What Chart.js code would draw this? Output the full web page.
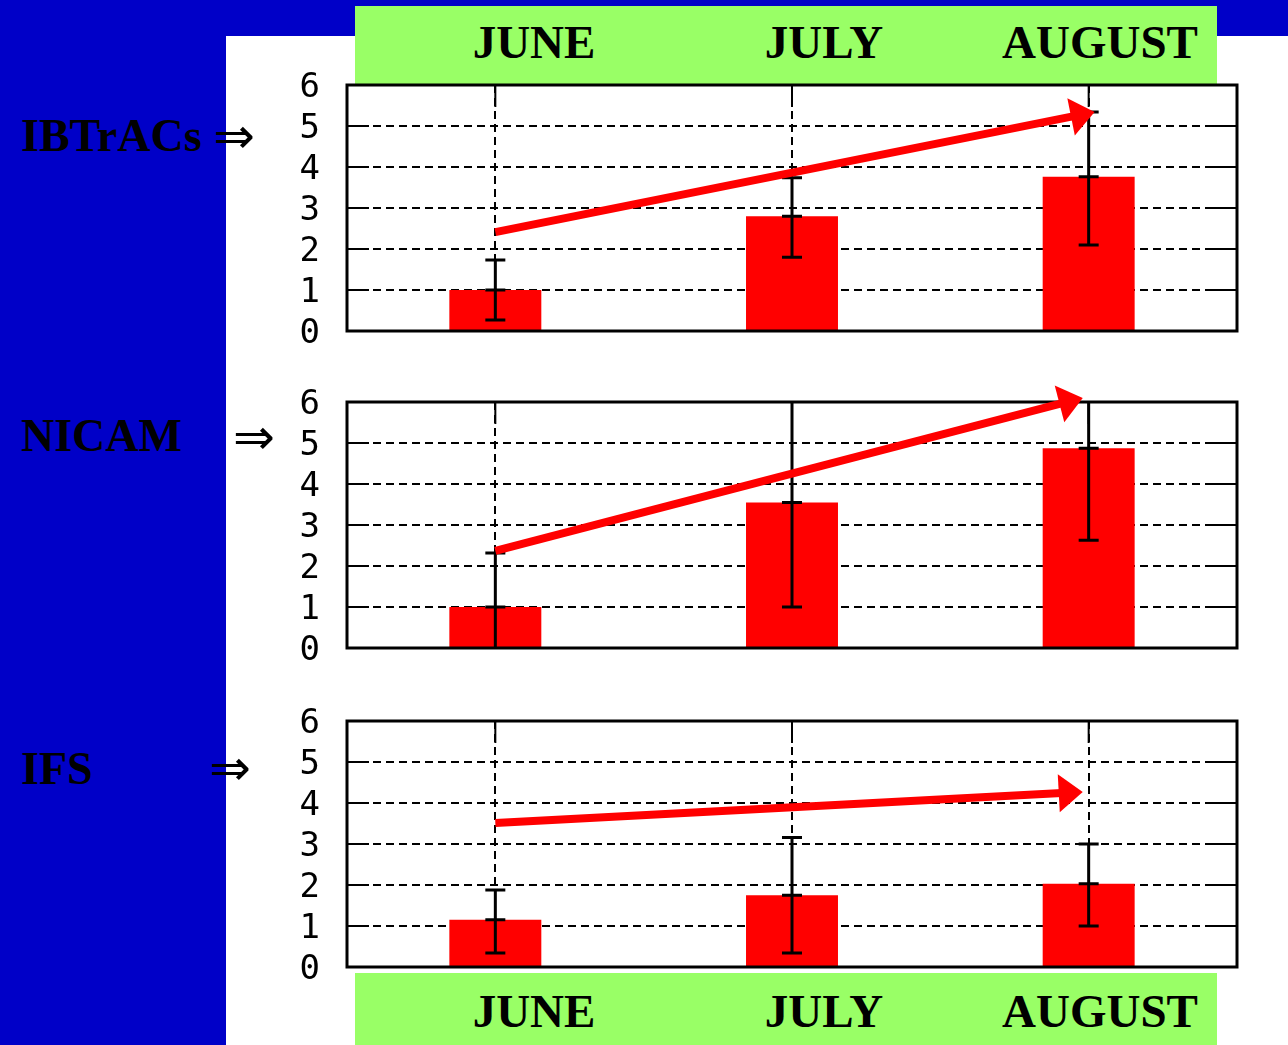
<!DOCTYPE html>
<html>
<head>
<meta charset="utf-8">
<title>Monthly counts</title>
<script src="https://cdn.jsdelivr.net/npm/chart.js@4.4.1/dist/chart.umd.min.js"></script>
<style>
  html, body { margin: 0; padding: 0; }
  body { width: 1288px; height: 1045px; background: #0000c8; position: relative; overflow: hidden; }
  #panel { position: absolute; left: 226px; top: 36px; width: 1062px; height: 1009px; background: #fff; }
  .band { position: absolute; left: 355px; width: 862px; background: #99ff66; }
  .month, .model { position: absolute; font-family: "Liberation Serif", "Times New Roman", serif; font-weight: bold; color: #000; white-space: nowrap; line-height: 1; }
  .month { font-size: 47px; transform: translateX(-50%); }
  .model { font-size: 46px; left: 21px; }
  .imp { position: absolute; font-family: "DejaVu Sans", sans-serif; font-size: 50px; line-height: 1; color: #000; }
  canvas { position: absolute; left: 280px; }
</style>
</head>
<body>
<div id="panel"></div>
<div class="band" style="top:6px;height:78px"></div>
<div class="band" style="top:973px;height:72px"></div>
<div id="labels"></div>
<canvas id="c0" width="970" height="300" style="top:60px"></canvas>
<canvas id="c1" width="970" height="300" style="top:377px"></canvas>
<canvas id="c2" width="970" height="300" style="top:696px"></canvas>

<script>
// categories and axis
const months = ['JUNE', 'JULY', 'AUGUST'];
const yTickLabels = ['0', '1', '2', '3', '4', '5', '6'];
const models = ['IBTrACs', 'NICAM', 'IFS'];

// bar heights (means) and error bar ends
const ibtracsMean = [1.0, 2.8, 3.76];
const ibtracsLow  = [0.27, 1.8, 2.1];
const ibtracsHigh = [1.73, 3.74, 5.34];

const nicamMean = [1.0, 3.55, 4.87];
const nicamLow  = [-0.32, 1.0, 2.63];
const nicamHigh = [2.32, 6.1, 7.1];

const ifsMean = [1.15, 1.75, 2.03];
const ifsLow  = [0.34, 0.34, 1.0];
const ifsHigh = [1.88, 3.16, 3.0];

// trend arrows: [category index, value] start and tip
const ibtracsTrend = [[0, 2.41], [2.02, 5.34]];
const nicamTrend   = [[0, 2.37], [1.98, 6.1]];
const ifsTrend     = [[0, 3.51], [1.98, 4.27]];

// page text layout
const monthX = [534, 824, 1100];
const modelTop = [113, 413, 746];
const impLeft = [213, 233, 209];
const impTop = [111, 412, 743];

const labels = document.getElementById('labels');
months.forEach((m, i) => {
  [19, 988].forEach(top => {
    const d = document.createElement('div');
    d.className = 'month';
    d.textContent = m;
    d.style.left = monthX[i] + 'px';
    d.style.top = top + 'px';
    labels.appendChild(d);
  });
});
models.forEach((m, i) => {
  const d = document.createElement('div');
  d.className = 'model';
  d.textContent = m;
  d.style.top = modelTop[i] + 'px';
  labels.appendChild(d);
  const a = document.createElement('div');
  a.className = 'imp';
  a.textContent = '\u21D2';
  a.style.left = impLeft[i] + 'px';
  a.style.top = impTop[i] + 'px';
  labels.appendChild(a);
});

// solid tick stubs, error bars, frame and trend arrow
const framePlugin = {
  id: 'frame',
  beforeDatasetsDraw(chart) {
    const { ctx, chartArea: a, scales: { x, y } } = chart;
    ctx.save();
    ctx.strokeStyle = '#000';
    ctx.lineWidth = 2;
    ctx.beginPath();
    y.ticks.forEach(t => {
      const py = y.getPixelForValue(t.value);
      ctx.moveTo(a.left, py); ctx.lineTo(a.left + 22, py);
      ctx.moveTo(a.right - 25, py); ctx.lineTo(a.right, py);
    });
    months.forEach((m, i) => {
      const px = x.getPixelForValue(i);
      ctx.moveTo(px, a.top); ctx.lineTo(px, a.top + 22);
    });
    ctx.stroke();
    ctx.restore();
  },
  afterDatasetsDraw(chart, args, opts) {
    const { ctx, chartArea: a, scales: { x, y } } = chart;
    const mean = chart.data.datasets[0].data;

    // error bars
    ctx.save();
    ctx.beginPath();
    ctx.rect(a.left, a.top, a.right - a.left, a.bottom - a.top);
    ctx.clip();
    ctx.strokeStyle = '#000';
    ctx.lineWidth = 3;
    ctx.beginPath();
    mean.forEach((v, i) => {
      const px = x.getPixelForValue(i);
      const lo = y.getPixelForValue(opts.low[i]);
      const hi = y.getPixelForValue(opts.high[i]);
      const mid = y.getPixelForValue(v);
      ctx.moveTo(px, lo); ctx.lineTo(px, hi);
      [lo, mid, hi].forEach(py => { ctx.moveTo(px - 10, py); ctx.lineTo(px + 10, py); });
    });
    ctx.stroke();
    ctx.restore();

    // frame
    ctx.save();
    ctx.strokeStyle = '#000';
    ctx.lineWidth = 3;
    ctx.strokeRect(a.left, a.top, a.right - a.left, a.bottom - a.top);
    ctx.restore();

    // trend arrow
    const [p0, p1] = opts.trend;
    const x0 = x.getPixelForValue(p0[0]), y0 = y.getPixelForValue(p0[1]);
    const x1 = x.getPixelForValue(p1[0]), y1 = y.getPixelForValue(p1[1]);
    const len = Math.hypot(x1 - x0, y1 - y0);
    const ux = (x1 - x0) / len, uy = (y1 - y0) / len;
    const headLen = 24, headHalf = 19;
    const bx = x1 - ux * headLen, by = y1 - uy * headLen;
    ctx.save();
    ctx.strokeStyle = '#ff0000';
    ctx.fillStyle = '#ff0000';
    ctx.lineWidth = 8;
    ctx.lineCap = 'butt';
    ctx.beginPath();
    ctx.moveTo(x0, y0);
    ctx.lineTo(bx + ux * 3, by + uy * 3);
    ctx.stroke();
    ctx.beginPath();
    ctx.moveTo(x1, y1);
    ctx.lineTo(bx - uy * headHalf, by + ux * headHalf);
    ctx.lineTo(bx + uy * headHalf, by - ux * headHalf);
    ctx.closePath();
    ctx.fill();
    ctx.restore();
  }
};

function makeChart(id, mean, low, high, trend) {
  return new Chart(document.getElementById(id), {
    type: 'bar',
    data: {
      labels: months,
      datasets: [{
        data: mean,
        backgroundColor: '#ff0000',
        borderWidth: 0,
        barPercentage: 0.31,
        categoryPercentage: 1
      }]
    },
    options: {
      responsive: false,
      animation: false,
      devicePixelRatio: 1,
      layout: { padding: { top: 25, bottom: 29, left: 0, right: 13 } },
      scales: {
        x: {
          offset: true,
          grid: { offset: false, color: '#000', lineWidth: 2, drawTicks: false },
          border: { display: false, dash: [8, 5] },
          ticks: { display: false },
          afterFit: s => { s.height = 0; s.paddingLeft = 0; s.paddingRight = 0; }
        },
        y: {
          min: 0,
          max: 6,
          grid: { color: '#000', lineWidth: 2, drawTicks: false },
          border: { display: false, dash: [8, 5] },
          ticks: {
            stepSize: 1,
            autoSkip: false,
            padding: 27,
            labelOffset: 3,
            color: '#000',
            font: { family: 'DejaVu Sans Mono', size: 34, lineHeight: 1 },
            callback: (v) => yTickLabels[v]
          },
          afterFit: s => { s.width = 67; s.paddingTop = 0; s.paddingBottom = 0; }
        }
      },
      plugins: {
        legend: { display: false },
        tooltip: { enabled: false },
        frame: { low: low, high: high, trend: trend }
      }
    },
    plugins: [framePlugin]
  });
}

makeChart('c0', ibtracsMean, ibtracsLow, ibtracsHigh, ibtracsTrend);
makeChart('c1', nicamMean, nicamLow, nicamHigh, nicamTrend);
makeChart('c2', ifsMean, ifsLow, ifsHigh, ifsTrend);
</script>
</body>
</html>
